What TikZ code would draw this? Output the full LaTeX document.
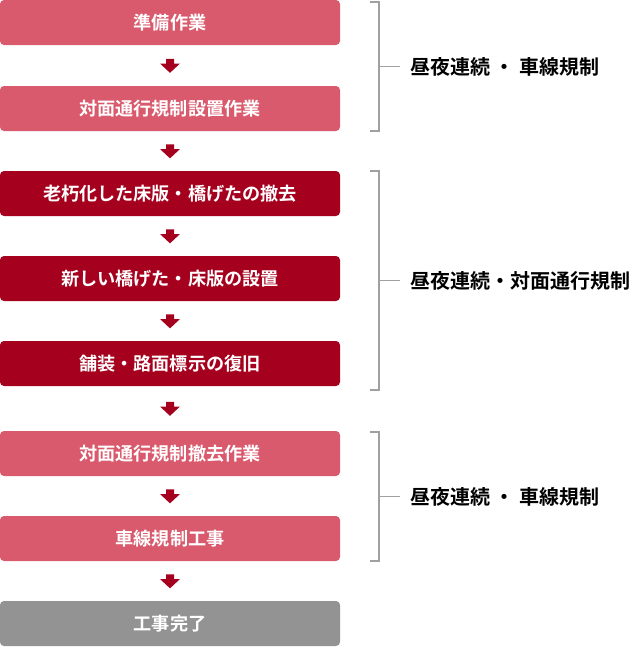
\documentclass[tikz,border=0pt]{standalone}
\usepackage{fontspec}
\setmainfont{Noto Sans CJK JP}[BoldFont={* Bold}]
\definecolor{lt}{HTML}{D95A6D}
\definecolor{dk}{HTML}{A5001E}
\definecolor{gy}{HTML}{939393}
\definecolor{br}{HTML}{A0A0A0}
\begin{document}
\begin{tikzpicture}[x=0.75pt,y=-0.75pt,
  box/.style={minimum width=255pt,minimum height=33.75pt,rounded corners=3pt,text=white,font=\bfseries\fontsize{13.6}{15}\selectfont,inner sep=0pt},
  lbl/.style={anchor=west,font=\bfseries\fontsize{15}{17}\selectfont,inner sep=0pt},
  arr/.style={fill=dk},
  brk/.style={draw=br,line width=0.9pt}]
\useasboundingbox (0,0) rectangle (630,647);
\foreach \y/\c/\t/\n in {22.5/lt/準備作業/b1,108.5/lt/対面通行規制設置作業/b2,193.5/dk/老朽化した床版・橋げたの撤去/b3,278.5/dk/新しい橋げた・床版の設置/b4,363.5/dk/舗装・路面標示の復旧/b5,453.5/lt/対面通行規制撤去作業/b6,538.5/lt/車線規制工事/b7,623.5/gy/工事完了/b8}
  \node[box,fill=\c] (\n) at (170,\y) {\t};
\foreach \a/\b in {b1/b2,b2/b3,b3/b4,b4/b5,b5/b6,b6/b7,b7/b8}{
  \path (\a.south) -- (\b.north) coordinate[pos=0.5] (m\a);
  \fill[arr] ([xshift=-3pt,yshift=5pt]m\a) -- ([xshift=3pt,yshift=5pt]m\a) -- ([xshift=3pt,yshift=1.5pt]m\a) -- ([xshift=7.5pt,yshift=1.5pt]m\a) -- ([yshift=-5.5pt]m\a) -- ([xshift=-7.5pt,yshift=1.5pt]m\a) -- ([xshift=-3pt,yshift=1.5pt]m\a) -- cycle;
}
\foreach \t/\bo/\n/\s in {2/131/l1/昼夜連続 ・ 車線規制,171/390/l2/昼夜連続・対面通行規制,432/561/l3/昼夜連続 ・ 車線規制}{
  \draw[brk] (370,\t) -- (379,\t) -- (379,\bo) -- (370,\bo);
  \coordinate (c\n) at (379,{(\t+\bo)/2});
  \node[lbl] (\n) at (410,{(\t+\bo)/2}) {\s};
  \draw[brk] (c\n) -- ([xshift=-7.5pt]\n.west);
}
\end{tikzpicture}
\end{document}
